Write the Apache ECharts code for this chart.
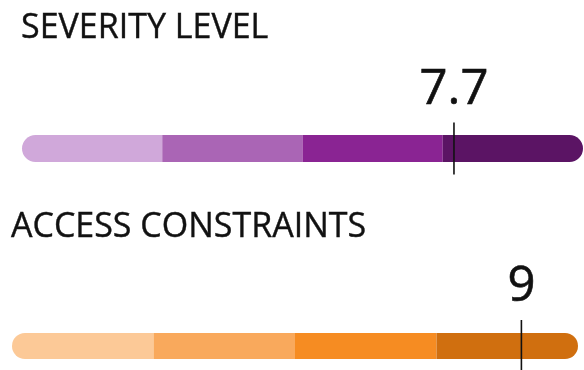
<!DOCTYPE html>
<html>
<head>
<meta charset="utf-8">
<script src="https://cdn.jsdelivr.net/npm/echarts@6/dist/echarts.min.js"></script>
<style>
  html, body { margin: 0; padding: 0; background: #ffffff; }
  #chart { width: 584px; height: 370px; }
</style>
</head>
<body>
<div id="chart"></div>
<script>
// gauges: title, score out of 10
var gaugeTitles = ['SEVERITY LEVEL', 'ACCESS CONSTRAINTS'];
var gaugeValues = [7.7, 9];
// each bar is split in four equal bands on a 0-10 scale
var bandSizes = [2.5, 2.5, 2.5, 2.5];
var severityColors = ['#d0a8da', '#aa65b5', '#8a2493', '#5b1464'];
var accessColors = ['#fcc997', '#f9a95c', '#f68c22', '#d06f0f'];

var bandColors = [severityColors, accessColors];
var fontFam = '"Open Sans", "DejaVu Sans", sans-serif';

var grids = [
    { left: 22, right: 1, top: 135, height: 27 },
    { left: 12, right: 6, top: 333, height: 26 }
];

var xAxes = [], yAxes = [], series = [], titles = [];
var titleTops = [11, 210];
var titleLefts = [21, 11];

gaugeTitles.forEach(function (name, g) {
    titles.push({
        text: name,
        left: titleLefts[g],
        top: titleTops[g],
        padding: 0,
        textStyle: {
            fontFamily: fontFam,
            fontSize: 34,
            fontWeight: 'normal',
            color: '#111111',
            textBorderColor: '#111111',
            textBorderWidth: 0.4
        }
    });
    xAxes.push({ type: 'value', gridIndex: g, min: 0, max: 10, show: false });
    yAxes.push({ type: 'category', gridIndex: g, data: [name], show: false });

    bandSizes.forEach(function (size, i) {
        var radius = [0, 0, 0, 0];
        if (i === 0) radius = [14, 0, 0, 14];
        if (i === bandSizes.length - 1) radius = [0, 14, 14, 0];
        series.push({
            type: 'bar',
            xAxisIndex: g,
            yAxisIndex: g,
            stack: 'band' + g,
            barWidth: grids[g].height,
            silent: true,
            data: [size],
            itemStyle: { color: bandColors[g][i], borderRadius: radius }
        });
    });

    // marker line with the score above it (scatter defaults to 0.8 opacity)
    series.push({
        type: 'scatter',
        xAxisIndex: g,
        yAxisIndex: g,
        symbol: 'rect',
        symbolSize: [1.6, 52],
        z: 5,
        silent: true,
        data: [[gaugeValues[g], 0]],
        itemStyle: { color: '#111111', opacity: 1 },
        label: {
            show: true,
            position: 'top',
            distance: 8,
            formatter: function (p) { return String(p.value[0]); },
            fontFamily: fontFam,
            fontSize: 49,
            color: '#111111',
            opacity: 1,
            textBorderColor: '#111111',
            textBorderWidth: 0.6
        }
    });
});

var myChart = echarts.init(document.getElementById('chart'), null, { renderer: 'canvas' });
myChart.setOption({
    backgroundColor: '#ffffff',
    animation: false,
    title: titles,
    grid: grids,
    xAxis: xAxes,
    yAxis: yAxes,
    series: series
});
</script>
</body>
</html>
